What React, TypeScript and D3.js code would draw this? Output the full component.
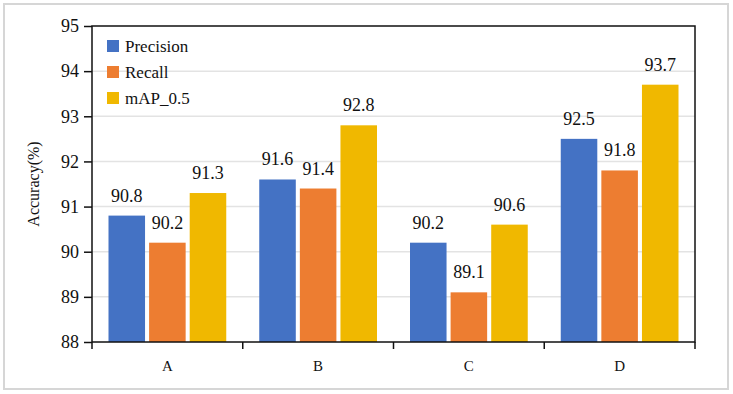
import React, { useRef, useEffect } from 'react';
import * as d3 from 'd3';

const categories = ['A', 'B', 'C', 'D'];
const seriesNames = ['Precision', 'Recall', 'mAP_0.5'];
const precision = [90.8, 91.6, 90.2, 92.5];
const recall = [90.2, 91.4, 89.1, 91.8];
const mAP = [91.3, 92.8, 90.6, 93.7];
const yTicks = [88, 89, 90, 91, 92, 93, 94, 95];
const colors = ['#4472C4', '#ED7D31', '#F0B800'];

const W = 733;
const H = 394;
const font = "'Times New Roman', Times, 'Liberation Serif', 'DejaVu Serif', serif";

const App = () => {
  const ref = useRef<SVGSVGElement>(null);

  useEffect(() => {
    const svg = d3.select(ref.current);
    svg.selectAll('*').remove();

    const margin = { top: 26, right: 38, bottom: 52, left: 92 };
    const innerWidth = W - margin.left - margin.right;
    const innerHeight = H - margin.top - margin.bottom;

    // outer frame
    svg.append('rect')
      .attr('x', 4).attr('y', 4)
      .attr('width', 724).attr('height', 385)
      .attr('fill', '#fff')
      .attr('stroke', '#d6d6d6')
      .attr('stroke-width', 2);

    const x = d3.scaleBand().domain(categories).range([0, innerWidth]);
    const xs = d3.scaleBand().domain(seriesNames)
      .range([16.5, x.bandwidth() - 16.5])
      .paddingInner(0.1);
    const y = d3.scaleLinear().domain([88, 95]).range([innerHeight, 0]);

    const g = svg.append('g')
      .attr('transform', `translate(${margin.left},${margin.top})`);

    // gridlines
    g.selectAll('line.grid')
      .data(yTicks.slice(1, -1))
      .join('line')
      .attr('class', 'grid')
      .attr('x1', 0).attr('x2', innerWidth)
      .attr('y1', d => y(d)).attr('y2', d => y(d))
      .attr('stroke', '#e3e3e3')
      .attr('stroke-width', 1.5);

    const series = [precision, recall, mAP];
    series.forEach((vals, si) => {
      const rows = categories.map((c, i) => ({ c, v: vals[i] }));
      g.selectAll(`rect.s${si}`)
        .data(rows)
        .join('rect')
        .attr('class', `s${si}`)
        .attr('x', d => x(d.c)! + xs(seriesNames[si])!)
        .attr('y', d => y(d.v))
        .attr('width', xs.bandwidth())
        .attr('height', d => innerHeight - y(d.v))
        .attr('fill', colors[si]);

      g.selectAll(`text.l${si}`)
        .data(rows)
        .join('text')
        .attr('class', `l${si}`)
        .attr('x', d => x(d.c)! + xs(seriesNames[si])! + xs.bandwidth() / 2)
        .attr('y', d => y(d.v) - 14)
        .attr('text-anchor', 'middle')
        .attr('font-size', 18)
        .attr('fill', '#111')
        .text(d => d.v.toFixed(1));
    });

    // plot frame
    g.append('rect')
      .attr('x', 0).attr('y', 0)
      .attr('width', innerWidth).attr('height', innerHeight)
      .attr('fill', 'none')
      .attr('stroke', '#111')
      .attr('stroke-width', 1.5);

    // y axis
    const yAxis = g.append('g')
      .call(d3.axisLeft(y).tickValues(yTicks).tickSize(8).tickPadding(5).tickFormat(d3.format('d')));
    yAxis.attr('font-family', null).attr('font-size', null);
    yAxis.select('.domain').remove();
    yAxis.selectAll('line').attr('stroke', '#111').attr('stroke-width', 1.5);
    yAxis.selectAll('text')
      .attr('font-size', 18)
      .attr('fill', '#111');

    // x axis: ticks sit on the category boundaries
    const xAxis = g.append('g').attr('transform', `translate(0,${innerHeight})`);
    const bounds = categories.map(c => x(c)!).concat([innerWidth]);
    xAxis.selectAll('line')
      .data(bounds)
      .join('line')
      .attr('x1', d => d).attr('x2', d => d)
      .attr('y1', 0).attr('y2', 7)
      .attr('stroke', '#111')
      .attr('stroke-width', 1.5);
    xAxis.selectAll('text')
      .data(categories)
      .join('text')
      .attr('x', d => x(d)! + x.bandwidth() / 2)
      .attr('y', 29)
      .attr('text-anchor', 'middle')
      .attr('font-size', 15)
      .attr('fill', '#111')
      .text(d => d);

    // y axis title
    svg.append('text')
      .attr('transform', `translate(39,${margin.top + innerHeight / 2}) rotate(-90)`)
      .attr('text-anchor', 'middle')
      .attr('font-size', 16)
      .attr('fill', '#111')
      .text('Accuracy(%)');

    // legend
    const legend = svg.append('g').attr('transform', 'translate(107,40)');
    seriesNames.forEach((name, i) => {
      const row = legend.append('g').attr('transform', `translate(0,${i * 26})`);
      row.append('rect')
        .attr('width', 12).attr('height', 12)
        .attr('fill', colors[i]);
      row.append('text')
        .attr('x', 18).attr('y', 12)
        .attr('font-size', 17)
        .attr('fill', '#111')
        .text(name);
    });
  }, []);

  return (
    <svg
      ref={ref}
      width={W}
      height={H}
      fontFamily={font}
      style={{ display: 'block', position: 'absolute', left: 0, top: 0 }}
    />
  );
};

export default App;
